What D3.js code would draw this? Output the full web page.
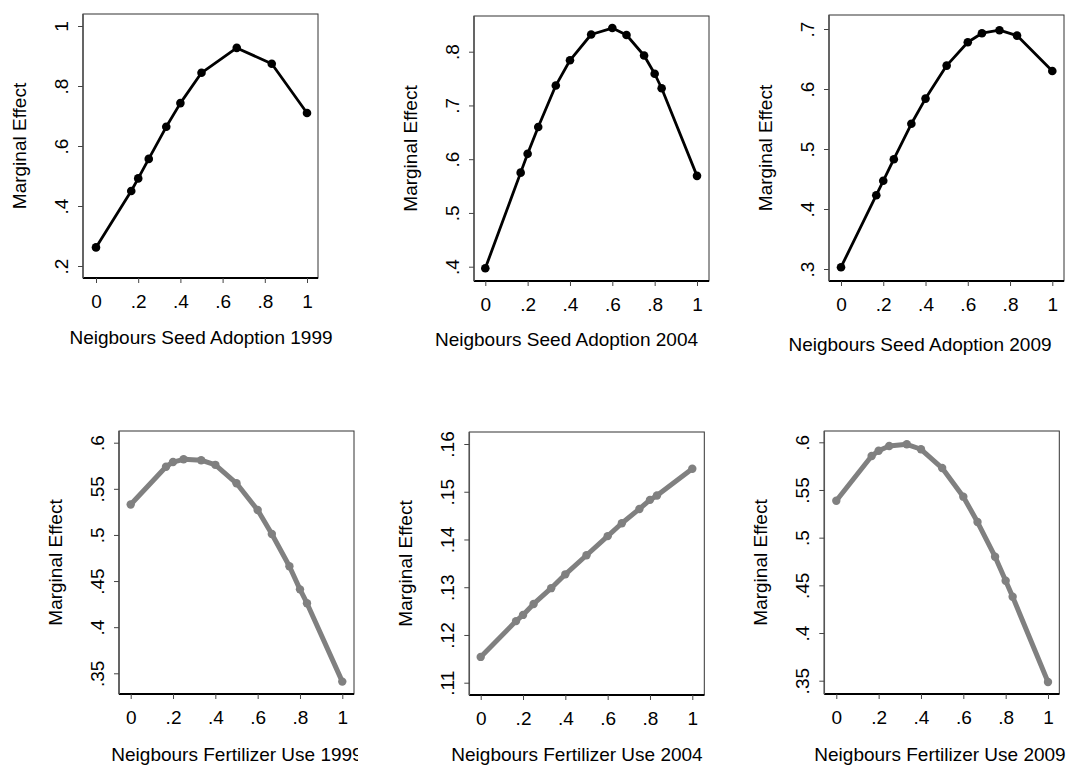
<!DOCTYPE html>
<html>
<head>
<meta charset="utf-8">
<script src="https://cdn.jsdelivr.net/npm/d3@7"></script>
<style>
  html, body { margin: 0; padding: 0; background: #fff; }
  svg { display: block; }
  text { font-family: Arial, "Liberation Sans", sans-serif; fill: #000; }
</style>
</head>
<body>
<svg id="chart" width="1069" height="767"></svg>
<script>
// ---------------- data ----------------
const seed1999X = [0, 0.167, 0.2, 0.25, 0.333, 0.4, 0.5, 0.667, 0.833, 1];
const seed1999Y = [0.262, 0.450, 0.492, 0.557, 0.664, 0.743, 0.844, 0.927, 0.874, 0.710];

const seed2004X = [0, 0.167, 0.2, 0.25, 0.333, 0.4, 0.5, 0.6, 0.667, 0.75, 0.8, 0.833, 1];
const seed2004Y = [0.397, 0.575, 0.610, 0.660, 0.737, 0.784, 0.832, 0.844, 0.831, 0.793, 0.759, 0.732, 0.569];

const seed2009X = [0, 0.167, 0.2, 0.25, 0.333, 0.4, 0.5, 0.6, 0.667, 0.75, 0.833, 1];
const seed2009Y = [0.303, 0.423, 0.447, 0.483, 0.542, 0.584, 0.639, 0.678, 0.693, 0.698, 0.689, 0.630];

const fert1999X = [0, 0.167, 0.2, 0.25, 0.333, 0.4, 0.5, 0.6, 0.667, 0.75, 0.8, 0.833, 1];
const fert1999Y = [0.533, 0.574, 0.579, 0.582, 0.581, 0.576, 0.556, 0.527, 0.501, 0.466, 0.441, 0.426, 0.341];

const fert2004X = [0, 0.167, 0.2, 0.25, 0.333, 0.4, 0.5, 0.6, 0.667, 0.75, 0.8, 0.833, 1];
const fert2004Y = [0.1154, 0.1229, 0.1242, 0.1265, 0.1298, 0.1327, 0.1367, 0.1407, 0.1434, 0.1464, 0.1483, 0.1492, 0.1548];

const fert2009X = [0, 0.167, 0.2, 0.25, 0.333, 0.4, 0.5, 0.6, 0.667, 0.75, 0.8, 0.833, 1];
const fert2009Y = [0.5387, 0.5856, 0.5912, 0.5961, 0.5979, 0.5927, 0.573, 0.543, 0.5164, 0.480, 0.4548, 0.438, 0.3486];

const xTicks = [0, 0.2, 0.4, 0.6, 0.8, 1];
const xTickLabels = ["0", ".2", ".4", ".6", ".8", "1"];

const yTicks1 = [0.2, 0.4, 0.6, 0.8, 1];
const yTickLabels1 = [".2", ".4", ".6", ".8", "1"];
const yTicks2 = [0.4, 0.5, 0.6, 0.7, 0.8];
const yTickLabels2 = [".4", ".5", ".6", ".7", ".8"];
const yTicks3 = [0.3, 0.4, 0.5, 0.6, 0.7];
const yTickLabels3 = [".3", ".4", ".5", ".6", ".7"];
const yTicks4 = [0.35, 0.4, 0.45, 0.5, 0.55, 0.6];
const yTickLabels4 = [".35", ".4", ".45", ".5", ".55", ".6"];
const yTicks5 = [0.11, 0.12, 0.13, 0.14, 0.15, 0.16];
const yTickLabels5 = [".11", ".12", ".13", ".14", ".15", ".16"];
const yTicks6 = [0.35, 0.4, 0.45, 0.5, 0.55, 0.6];
const yTickLabels6 = [".35", ".4", ".45", ".5", ".55", ".6"];

const yTitle = "Marginal Effect";
const xTitles = ["Neigbours Seed Adoption 1999", "Neigbours Seed Adoption 2004", "Neigbours Seed Adoption 2009",
                 "Neigbours Fertilizer Use 1999", "Neigbours Fertilizer Use 2004", "Neigbours Fertilizer Use 2009"];

// ---------------- layout ----------------
const panels = [
  { x: seed1999X, y: seed1999Y, yt: yTicks1, ytl: yTickLabels1, title: xTitles[0],
    frame: [83, 318, 14, 278], xr: [96, 307], yr: [266, 26], titleX: 201, titleOff: 66, clip: [0, 1069], style: "top" },
  { x: seed2004X, y: seed2004Y, yt: yTicks2, ytl: yTickLabels2, title: xTitles[1],
    frame: [474, 709, 16, 281], xr: [485.3, 697], yr: [266.7, 51.7], titleX: 566.5, titleOff: 65, clip: [0, 1069], style: "top" },
  { x: seed2009X, y: seed2009Y, yt: yTicks3, ytl: yTickLabels3, title: xTitles[2],
    frame: [829, 1064, 15, 281], xr: [841, 1052.3], yr: [269, 29], titleX: 920, titleOff: 70, clip: [0, 1069], style: "top" },
  { x: fert1999X, y: fert1999Y, yt: yTicks4, ytl: yTickLabels4, title: xTitles[3],
    frame: [119, 354, 431, 694], xr: [130.7, 342.3], yr: [673.3, 442.7], titleX: 237, titleOff: 67, clip: [0, 358], style: "bottom" },
  { x: fert2004X, y: fert2004Y, yt: yTicks5, ytl: yTickLabels5, title: xTitles[4],
    frame: [469.3, 704.3, 432, 695], xr: [480.7, 692.3], yr: [682.7, 444], titleX: 577, titleOff: 66, clip: [0, 1069], style: "bottom" },
  { x: fert2009X, y: fert2009Y, yt: yTicks6, ytl: yTickLabels6, title: xTitles[5],
    frame: [824.3, 1059.3, 431, 694], xr: [836.3, 1048], yr: [680.7, 442.3], titleX: 940, titleOff: 67, clip: [0, 1069], style: "bottom" }
];

const styles = {
  top:    { color: "#000000", width: 2.8, r: 4.3 },
  bottom: { color: "#808080", width: 5, r: 4.2 }
};

const svg = d3.select("#chart");
const defs = svg.append("defs");
const FS = 19;
const FF = "Arial, 'Liberation Sans', sans-serif";

panels.forEach((p, i) => {
  defs.append("clipPath").attr("id", "clip" + i)
    .append("rect").attr("x", p.clip[0]).attr("y", 0)
    .attr("width", p.clip[1] - p.clip[0]).attr("height", 767);

  const g = svg.append("g").attr("clip-path", `url(#clip${i})`);
  const [fx0, fx1, fy0, fy1] = p.frame;
  const ydom = [p.yt[0], p.yt[p.yt.length - 1]];
  const xs = d3.scaleLinear().domain([0, 1]).range(p.xr);
  const ys = d3.scaleLinear().domain(ydom).range(p.yr);
  const st = styles[p.style];

  // frame
  g.append("rect").attr("x", fx0).attr("y", fy0).attr("width", fx1 - fx0).attr("height", fy1 - fy0)
    .attr("fill", "none").attr("stroke", "#333").attr("stroke-width", 1);

  // x axis
  const xAxis = d3.axisBottom(xs).tickValues(xTicks)
    .tickFormat((d, k) => xTickLabels[k]).tickSize(5).tickSizeOuter(0);
  const xg = g.append("g").attr("transform", `translate(0,${fy1})`).call(xAxis);
  xg.select(".domain").attr("d", `M${fx0},0H${fx1}`).attr("stroke", "#000").attr("stroke-width", 2);
  xg.selectAll(".tick line").attr("stroke", "#444").attr("stroke-width", 1);
  xg.selectAll(".tick text").attr("font-size", FS).attr("font-family", FF)
    .attr("fill", "#000").attr("dy", null).attr("y", 29.5);

  // y axis
  const yAxis = d3.axisLeft(ys).tickValues(p.yt)
    .tickFormat((d, k) => p.ytl[k]).tickSize(5).tickSizeOuter(0);
  const yg = g.append("g").attr("transform", `translate(${fx0},0)`).call(yAxis);
  yg.select(".domain").attr("d", `M0,${fy0}V${fy1}`).attr("stroke", "#555").attr("stroke-width", 1.5);
  yg.selectAll(".tick line").attr("stroke", "#444").attr("stroke-width", 1);
  yg.selectAll(".tick text")
    .attr("font-size", FS).attr("font-family", FF).attr("fill", "#000")
    .attr("x", null).attr("dy", null)
    .attr("text-anchor", "middle")
    .attr("transform", "translate(-15,0) rotate(-90)");

  // axis titles
  g.append("text").attr("x", p.titleX).attr("y", fy1 + p.titleOff)
    .attr("text-anchor", "middle").attr("font-size", FS).text(p.title);
  g.append("text")
    .attr("transform", `translate(${fx0 - 57},${(fy0 + fy1) / 2}) rotate(-90)`)
    .attr("text-anchor", "middle").attr("font-size", FS).text(yTitle);

  // line + markers
  const pts = p.x.map((v, k) => [v, p.y[k]]);
  const line = d3.line().x(d => xs(d[0])).y(d => ys(d[1]));
  g.append("path").datum(pts).attr("d", line).attr("fill", "none")
    .attr("stroke", st.color).attr("stroke-width", st.width).attr("stroke-linejoin", "round");
  g.selectAll("circle.pt").data(pts).enter().append("circle").attr("class", "pt")
    .attr("cx", d => xs(d[0])).attr("cy", d => ys(d[1])).attr("r", st.r).attr("fill", st.color);
});
</script>
</body>
</html>
